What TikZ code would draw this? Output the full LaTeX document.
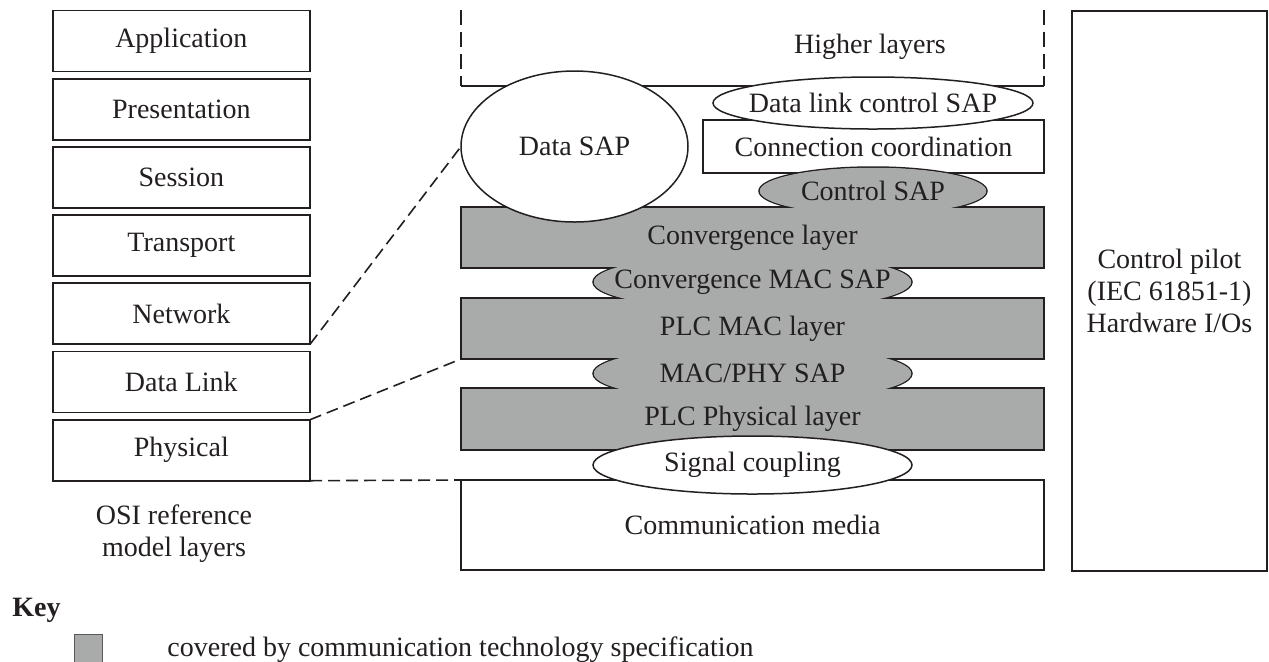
\documentclass[tikz,border=0pt]{standalone}
\usepackage{fontspec}
\setmainfont{Liberation Serif}
\usetikzlibrary{shapes.geometric}

\definecolor{plcgray}{RGB}{169,171,170}
\definecolor{linedark}{RGB}{35,31,32}

\tikzset{
    osibox/.style={draw=linedark,line width=0.9pt,minimum width=128.65pt,minimum height=30.5pt,inner sep=0pt,outer sep=0pt},
    stackbox/.style={draw=linedark,line width=0.9pt,fill=white,inner sep=0pt,outer sep=0pt},
    plcbox/.style={stackbox,fill=plcgray},
    sapline/.style={ellipse,draw=linedark,line width=0.75pt,fill=plcgray,inner sep=0pt,outer sep=0pt},
    sapgray/.style={ellipse,fill=plcgray,inner sep=0pt,inner xsep=-40pt,outer sep=0pt},
    sapwhite/.style={ellipse,draw=linedark,line width=0.75pt,fill=white,inner sep=0pt,inner xsep=-40pt,outer sep=0pt},
    link/.style={draw=linedark,line width=0.8pt,dash pattern=on 6pt off 3pt}
}

\begin{document}
\begin{tikzpicture}[x=0.5pt,y=-0.5pt,font=\fontsize{14pt}{16pt}\selectfont,text=linedark]

    \useasboundingbox (0,0) rectangle (1269,661);

    %%%%%%%%%%%%%%%%%%%%%%%%%%%%%%%%%%%%%%%%%%%%%%%%%%%%%%

    % higher layers (open on top)
    \draw[draw=linedark,line width=0.9pt,dash pattern=on 7.5pt off 3.5pt] (461,10) -- (461,86);
    \draw[draw=linedark,line width=0.9pt,dash pattern=on 7.5pt off 3.5pt] (1044,10) -- (1044,86);
    \draw[draw=linedark,line width=0.9pt] (461,86) -- (1044,86);
    \node (hl) at (870,47) {Higher layers};

    % connection coordination
    \node[stackbox,minimum width=170.5pt,minimum height=26.5pt] (cc) at (873.5,146.5) {Connection coordination};

    %%%%%%%%%%%%%%%%%%%%%%%%%%%%%%%%%%%%%%%%%%%%%%%%%%%%%%

    % outlines of the grey SAPs
    \node[sapline,minimum width=114pt,minimum height=24pt] (csap) at (873,191) {};
    \node[sapline,minimum width=159.5pt,minimum height=29pt] (cmsap) at (752.5,282) {};
    \node[sapline,minimum width=159.5pt,minimum height=29pt] (mpsap) at (752.5,373.5) {};

    % PLC layers
    \node[plcbox,minimum width=291.5pt,minimum height=30.5pt] (conv) at (752.5,237.5) {Convergence layer};
    \node[plcbox,minimum width=291.5pt,minimum height=30.5pt] (mac) at (752.5,328.5) {PLC MAC layer};
    \node[plcbox,minimum width=291.5pt,minimum height=31pt] (phys) at (752.5,419) {PLC Physical layer};

    % grey SAPs merged into the layers
    \node[sapgray,minimum width=113.25pt,minimum height=23.25pt] (csap-t) at (csap) {Control SAP};
    \node[sapgray,minimum width=158.75pt,minimum height=28.25pt] (cmsap-t) at (cmsap) {Convergence MAC SAP};
    \node[sapgray,minimum width=158.75pt,minimum height=28.25pt] (mpsap-t) at (mpsap) {MAC/PHY SAP};

    %%%%%%%%%%%%%%%%%%%%%%%%%%%%%%%%%%%%%%%%%%%%%%%%%%%%%%

    % communication media and signal coupling
    \node[stackbox,minimum width=291.5pt,minimum height=45pt] (media) at (752.5,525) {Communication media};
    \node[sapwhite,minimum width=159.5pt,minimum height=29pt] (scpl) at (752.5,465) {Signal coupling};

    % data SAP and data link control SAP
    \node[sapwhite,minimum width=113.5pt,minimum height=75.5pt] (dsap) at (574.5,146.5) {Data SAP};
    \node[sapwhite,minimum width=160pt,minimum height=26pt] (dlcsap) at (873,103) {Data link control SAP};

    %%%%%%%%%%%%%%%%%%%%%%%%%%%%%%%%%%%%%%%%%%%%%%%%%%%%%%

    % control pilot
    \node[stackbox,minimum width=97.5pt,minimum height=280pt,align=center] (pilot) at (1169.5,291) {Control pilot\\(IEC 61851-1)\\Hardware I/Os};

    %%%%%%%%%%%%%%%%%%%%%%%%%%%%%%%%%%%%%%%%%%%%%%%%%%%%%%

    % OSI reference model
    \node[osibox] (app) at (181.35,41) {Application};
    \node[osibox] (pres) at (181.35,109.2) {Presentation};
    \node[osibox] (sess) at (181.35,177.4) {Session};
    \node[osibox] (trans) at (181.35,245.6) {Transport};
    \node[osibox] (net) at (181.35,313.8) {Network};
    \node[osibox] (dl) at (181.35,382) {Data Link};
    \node[osibox] (phy) at (181.35,450.2) {Physical};
    \node[align=center] (osi) at (174,534) {OSI reference\\model layers};

    % mapping to the stack
    \draw[link] (net.south east) -- (dsap.west);
    \draw[link] (phy.north east) -- (mac.south west);
    \draw[link] (phy.south east) -- (media.north west);

    %%%%%%%%%%%%%%%%%%%%%%%%%%%%%%%%%%%%%%%%%%%%%%%%%%%%%%

    % key
    \node[anchor=base west,inner sep=0pt,font=\fontsize{14pt}{16pt}\selectfont\bfseries] (key) at (12,616) {Key};
    \node[draw=black!65,fill=plcgray,line width=0.5pt,minimum size=14pt,inner sep=0pt,anchor=north west] (keybox) at (74,634) {};
    \node[anchor=base west,inner sep=0pt] (keytext) at (167,656) {covered by communication technology specification};

\end{tikzpicture}
\end{document}
